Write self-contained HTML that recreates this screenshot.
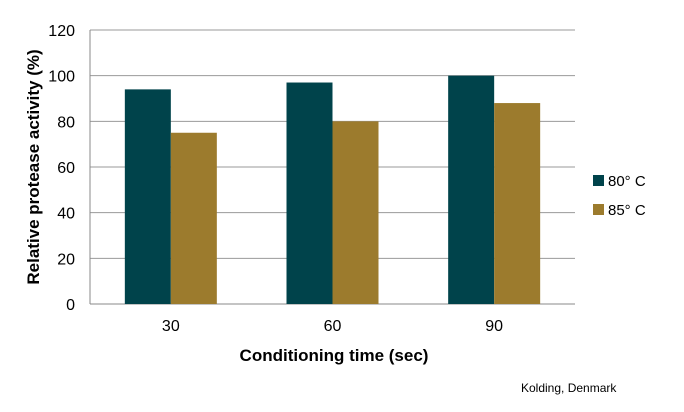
<!DOCTYPE html>
<html><head><meta charset="utf-8"><style>
body{margin:0;background:#fff;font-family:"Liberation Sans",Arial,sans-serif}
svg text{font-family:"Liberation Sans",Arial,sans-serif}
</style></head><body>
<svg id="c" width="684" height="407" xmlns="http://www.w3.org/2000/svg">
<g id="grid"></g>
<g id="bars"></g>
<g id="axes"></g>
<text x="334" y="361" font-size="17" font-weight="bold" text-anchor="middle">Conditioning time (sec)</text>
<text transform="translate(39,167) rotate(-90)" font-size="17" font-weight="bold" text-anchor="middle">Relative protease activity (%)</text>
<g>
<g><rect x="593" y="175" width="11" height="11" fill="#00434b"/><text x="608" y="186" font-size="15">80° C</text></g>
<g><rect x="593" y="204" width="11" height="11" fill="#9c7b2d"/><text x="608" y="215" font-size="15">85° C</text></g>
</g>
<text x="521" y="392" font-size="12">Kolding, Denmark</text>
</svg>
<script>
const categories=["30","60","90"];
const series80=[94,97,100];
const series85=[75,80,88];
const yTicks=[0,20,40,60,80,100,120];
const X0=90,X1=575,Y0=304,Y1=30,YMAX=120;
const ns="http://www.w3.org/2000/svg";
const y=v=>Y0-(v/YMAX)*(Y0-Y1);
const gw=(X1-X0)/categories.length;
const xc=i=>X0+gw*(i+0.5);
const BW=46;
function mk(tag,attrs,parent){const e=document.createElementNS(ns,tag);for(const k in attrs)e.setAttribute(k,attrs[k]);document.getElementById(parent).appendChild(e);return e;}
yTicks.forEach(t=>{
 const l=mk('line',{x1:X0,x2:X1,y1:y(t),y2:y(t),stroke:t===0?'#888':'#999','stroke-width':1},'grid');
 
 
 const tx=mk('text',{x:X0-15,y:y(t)+6,'font-size':16,'text-anchor':'end'},'axes');
 tx.textContent=t;
 
 
});
const ax=mk('line',{x1:X0,x2:X0,y1:Y1,y2:Y0,stroke:'#888'},'axes');


categories.forEach((c,i)=>{
 const b1=mk('rect',{x:xc(i)-BW,y:y(series80[i]),width:BW,height:Y0-y(series80[i]),fill:'#00434b'},'bars');
 
 
 const b2=mk('rect',{x:xc(i),y:y(series85[i]),width:BW,height:Y0-y(series85[i]),fill:'#9c7b2d'},'bars');
 
 
 const t=mk('text',{x:xc(i),y:331,'font-size':16,'text-anchor':'middle'},'axes');
 t.textContent=c;
 
 
});
</script>
</body></html>
